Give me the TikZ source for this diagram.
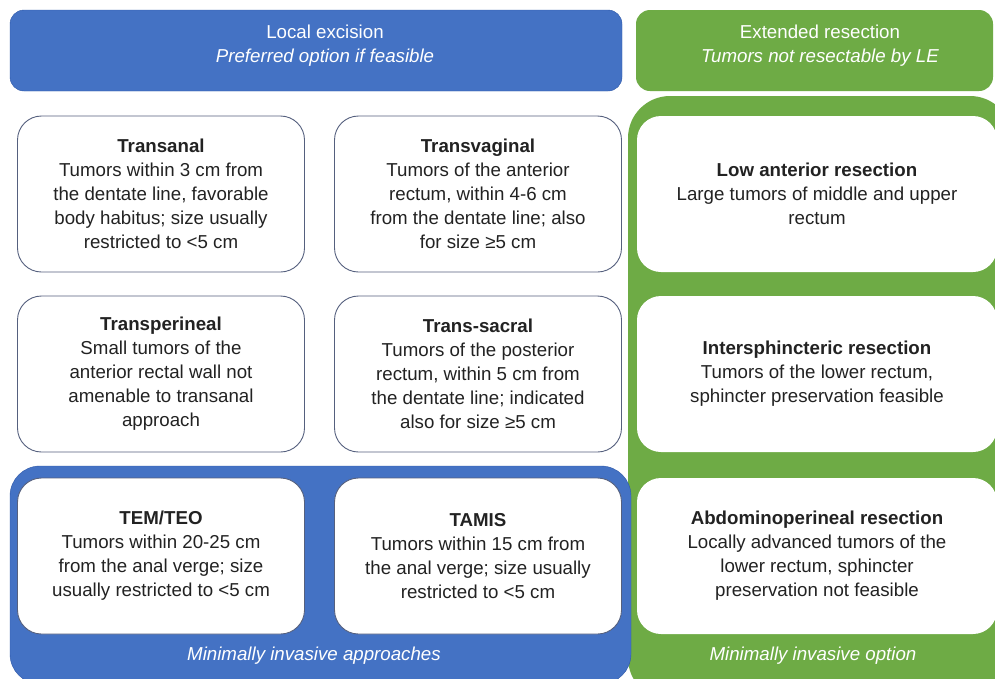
\documentclass[tikz,border=0pt]{standalone}
\usepackage{fontspec}
\setmainfont{Liberation Sans}
\definecolor{lebox}{HTML}{4472C4}
\definecolor{lebord}{HTML}{2E58A8}
\definecolor{erbox}{HTML}{6EAB45}
\definecolor{cardline}{HTML}{55607E}
\definecolor{cardtext}{HTML}{222222}
\tikzset{
  card/.style={draw=cardline, line width=0.9pt, fill=white, rounded corners=24pt,
    minimum width=287pt, minimum height=156pt, inner sep=0pt, align=center,
    text=cardtext, font=\fontsize{18.7}{24}\selectfont},
  widecard/.style={card, minimum width=360pt, draw=none},
  headtext/.style={text=white, align=center, font=\fontsize{18.7}{24}\selectfont},
  foottext/.style={text=white, font=\fontsize{18.7}{24}\selectfont\itshape}
}
\begin{document}
\begin{tikzpicture}[x=1pt,y=-1pt]
   \useasboundingbox (0,0) rectangle (995,678);
   \fill[white] (0,0) rectangle (995,678);

   \draw[lebord, fill=lebox, rounded corners=14pt] (10,10) rectangle (622,91);
   \node[headtext] (lehead) at (325,46) {Local excision\\\textit{Preferred option if feasible}};
   \fill[erbox, rounded corners=14pt] (636,10) rectangle (993,91);
   \node[headtext] (erhead) at (820,46) {Extended resection\\\textit{Tumors not resectable by LE}};

   \fill[erbox, rounded corners=42pt] (628,96) rectangle (1012,700);
   \draw[lebord, fill=lebox, rounded corners=30pt] (10,466) rectangle (631,684);

   \node[card] (transanal) at (161,194) {\textbf{Transanal}\\Tumors within 3 cm from\\the dentate line, favorable\\body habitus; size usually\\restricted to <5 cm};
   \node[card] (transvag) at (478,194) {\textbf{Transvaginal}\\Tumors of the anterior\\rectum, within 4-6 cm\\from the dentate line; also\\for size ≥5 cm};
   \node[card] (transper) at (161,374) {\textbf{Transperineal}\\Small tumors of the\\anterior rectal wall not\\amenable to transanal\\approach};
   \node[card] (transsac) at (478,374) {\textbf{Trans-sacral}\\Tumors of the posterior\\rectum, within 5 cm from\\the dentate line; indicated\\also for size ≥5 cm};
   \node[card] (temteo) at (161,556) {\textbf{TEM/TEO}\\Tumors within 20-25 cm\\from the anal verge; size\\usually restricted to <5 cm};
   \node[card] (tamis) at (478,556) {\textbf{TAMIS}\\Tumors within 15 cm from\\the anal verge; size usually\\restricted to <5 cm};

   \node[widecard] (lar) at (817,194) {\textbf{Low anterior resection}\\Large tumors of middle and upper\\rectum};
   \node[widecard] (isr) at (817,374) {\textbf{Intersphincteric resection}\\Tumors of the lower rectum,\\sphincter preservation feasible};
   \node[widecard] (apr) at (817,556) {\textbf{Abdominoperineal resection}\\Locally advanced tumors of the\\lower rectum, sphincter\\preservation not feasible};

   \node[foottext] (mianote) at (314,656) {Minimally invasive approaches};
   \node[foottext] (minote) at (813,656) {Minimally invasive option};
\end{tikzpicture}
\end{document}
